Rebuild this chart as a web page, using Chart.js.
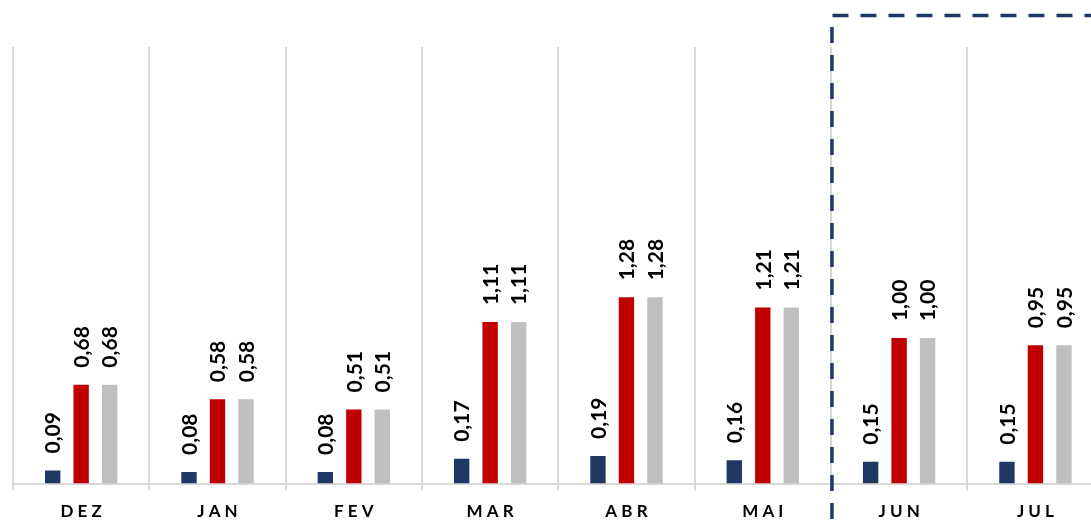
<!DOCTYPE html>
<html>
<head>
<meta charset="utf-8">
<script src="https://cdn.jsdelivr.net/npm/chart.js@4"></script>
<style>
  html, body { margin: 0; padding: 0; background: #fff; overflow: hidden; }
</style>
</head>
<body>
<canvas id="grafico" width="1110" height="537"></canvas>
<script>
// Meses
const meses = ['DEZ', 'JAN', 'FEV', 'MAR', 'ABR', 'MAI', 'JUN', 'JUL'];

// Séries
const serieAzul = [0.09, 0.08, 0.08, 0.17, 0.19, 0.16, 0.15, 0.15];
const serieVermelha = [0.68, 0.58, 0.51, 1.11, 1.28, 1.21, 1.00, 0.95];
const serieCinza = [0.68, 0.58, 0.51, 1.11, 1.28, 1.21, 1.00, 0.95];

// Rótulos de valor girados acima das barras
const rotulos = {
  id: 'rotulos',
  afterDatasetsDraw(chart) {
    const ctx = chart.ctx;
    ctx.save();
    ctx.font = 'bold 21px Lato';
    ctx.fillStyle = '#000';
    ctx.textAlign = 'left';
    ctx.textBaseline = 'middle';
    chart.data.datasets.forEach((ds, i) => {
      chart.getDatasetMeta(i).data.forEach((bar, j) => {
        const txt = ds.data[j].toFixed(2).replace('.', ',');
        ctx.save();
        ctx.translate(bar.x + 1, bar.y - 17);
        ctx.rotate(-Math.PI / 2);
        ctx.fillText(txt, 0, 0);
        ctx.restore();
      });
    });
    ctx.restore();
  }
};

// Caixa tracejada em volta de JUN e JUL
const caixa = {
  id: 'caixa',
  afterDraw(chart) {
    const x = chart.scales.x;
    const esq = (x.getPixelForValue(5) + x.getPixelForValue(6)) / 2 + 1;
    const ctx = chart.ctx;
    ctx.save();
    ctx.strokeStyle = '#1f3864';
    ctx.lineWidth = 3.5;
    ctx.setLineDash([16, 12]);
    ctx.beginPath();
    ctx.moveTo(esq, chart.height + 10);
    ctx.lineTo(esq, 15.5);
    ctx.lineTo(chart.width + 20, 15.5);
    ctx.stroke();
    ctx.restore();
  }
};

const ctx = document.getElementById('grafico').getContext('2d');

new Chart(ctx, {
  type: 'bar',
  data: {
    labels: meses,
    datasets: [
      { data: serieAzul, backgroundColor: '#1f3864' },
      { data: serieVermelha, backgroundColor: '#c00000' },
      { data: serieCinza, backgroundColor: '#bfbfbf' }
    ]
  },
  options: {
    responsive: false,
    animation: false,
    layout: { padding: { left: 13, right: 6.4, top: 47, bottom: 4 } },
    datasets: {
      bar: { categoryPercentage: 0.627, barPercentage: 0.54 }
    },
    plugins: {
      legend: { display: false },
      tooltip: { enabled: false }
    },
    scales: {
      x: {
        grid: {
          offset: true,
          color: '#d9d9d9',
          lineWidth: 2,
          tickLength: 7
        },
        border: { color: '#d9d9d9', width: 2 },
        ticks: {
          color: '#000',
          padding: 11,
          font: { family: 'Lato', size: 17, weight: 'bold' },
          callback: function (v, i) { return meses[i].split('').join(' '); }
        }
      },
      y: {
        display: false,
        min: 0,
        max: 3
      }
    }
  },
  plugins: [rotulos, caixa]
});
</script>
</body>
</html>
